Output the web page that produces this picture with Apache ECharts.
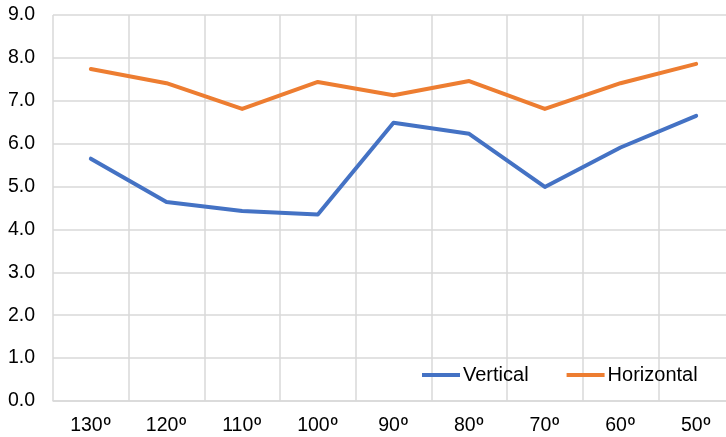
<!DOCTYPE html>
<html>
<head>
<meta charset="utf-8">
<script src="https://cdn.jsdelivr.net/npm/echarts@6/dist/echarts.min.js"></script>
<style>
  html, body { margin: 0; padding: 0; background: #fff; }
  #chart { width: 726px; height: 437px; }
</style>
</head>
<body>
<div id="chart"></div>
<script>
// Angle categories, left to right
const angles = ['130º', '120º', '110º', '100º', '90º', '80º', '70º', '60º', '50º'];
// Measured values per orientation
const vertical = [5.65, 4.64, 4.43, 4.35, 6.49, 6.23, 4.99, 5.91, 6.65];
const horizontal = [7.74, 7.41, 6.81, 7.44, 7.13, 7.46, 6.81, 7.41, 7.86];
// Value axis range
const yMin = 0, yMax = 9, yStep = 1;

const gridColor = '#d9d9d9';
const textFont = 'Liberation Sans, Arial, sans-serif';
const fontSize = 19.5;

const chart = echarts.init(document.getElementById('chart'), null, { renderer: 'canvas' });
chart.setOption({
  animation: false,
  backgroundColor: '#ffffff',
  // plot area runs slightly past the right edge of the canvas
  grid: { left: 53, top: 15, width: 681, height: 386, containLabel: false, outerBoundsMode: 'none' },
  legend: {
    data: [
      { name: 'Vertical', icon: 'rect' },
      { name: 'Horizontal', icon: 'rect' }
    ],
    left: 422,
    top: 365,
    padding: 0,
    itemWidth: 38,
    itemHeight: 4,
    itemGap: 38,
    textStyle: { fontFamily: textFont, fontSize: 20, color: '#000', padding: [0, 0, 0, -2] }
  },
  xAxis: {
    type: 'category',
    data: angles,
    boundaryGap: true,
    axisLine: { show: true, lineStyle: { color: gridColor, width: 1.5 } },
    axisTick: { show: false },
    splitLine: { show: true, interval: 0, lineStyle: { color: gridColor, width: 1.5 } },
    axisLabel: {
      interval: 0,
      margin: 15,
      fontFamily: textFont,
      fontSize: fontSize,
      color: '#000',
      // number and ordinal mark styled separately (ordinal without underline)
      formatter: v => '{n|' + v.replace('º', '') + '}{o|º}',
      rich: {
        n: { fontFamily: textFont, fontSize: fontSize, color: '#000' },
        o: { fontFamily: 'Roboto, sans-serif', fontSize: fontSize, color: '#000' }
      }
    }
  },
  yAxis: {
    type: 'value',
    min: yMin,
    max: yMax,
    interval: yStep,
    axisLine: { show: false },
    axisTick: { show: false },
    splitLine: { show: true, lineStyle: { color: gridColor, width: 1.5 } },
    axisLabel: {
      margin: 18,
      fontFamily: textFont,
      fontSize: fontSize,
      color: '#000',
      formatter: v => v.toFixed(1)
    }
  },
  series: [
    {
      name: 'Vertical',
      type: 'line',
      data: vertical,
      symbol: 'none',
      itemStyle: { color: '#4472C4' },
      lineStyle: { color: '#4472C4', width: 4, cap: 'round', join: 'round' }
    },
    {
      name: 'Horizontal',
      type: 'line',
      data: horizontal,
      symbol: 'none',
      itemStyle: { color: '#ED7D31' },
      lineStyle: { color: '#ED7D31', width: 4, cap: 'round', join: 'round' }
    }
  ]
});
</script>
</body>
</html>
